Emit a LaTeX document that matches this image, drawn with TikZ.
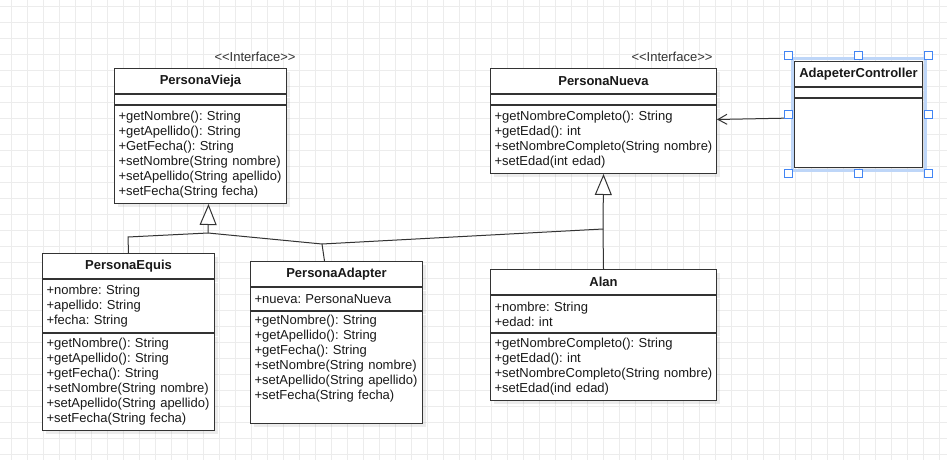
\documentclass[tikz,border=0pt]{standalone}
\usepackage{fontspec}
\setmainfont{Liberation Sans}
\usetikzlibrary{positioning, arrows.meta, shadows, fit}
\usepackage{xcolor}
\definecolor{edge}{RGB}{51, 51, 51}
\definecolor{ink}{RGB}{25, 25, 25}
\definecolor{gridline}{RGB}{236, 236, 236}
\definecolor{select}{RGB}{66, 133, 244}
\definecolor{glow}{RGB}{190, 214, 248}
\frenchspacing

\begin{document}
\begin{tikzpicture}[
        x=1pt, y=-1pt,
        font=\fontsize{13}{15}\selectfont,
        head/.style={draw=edge, line width=1pt, fill=white, text=ink, minimum width=#1, minimum height=25, inner sep=0, anchor=north west, font=\fontsize{13}{15}\selectfont\bfseries, drop shadow={shadow xshift=3pt, shadow yshift=-3pt, opacity=0.15}},
        part/.style={draw=edge, line width=1pt, fill=white, text=ink, text width=#1, align=left, inner xsep=4, inner ysep=0, drop shadow={shadow xshift=3pt, shadow yshift=-3pt, opacity=0.15}},
        stereo/.style={text=edge, inner sep=0},
        link/.style={draw=edge, line width=1pt},
        inherit/.style={link, -{Triangle[length=21pt, width=17pt, fill=white]}},
        assoc/.style={link, -{Straight Barb[length=9pt, width=10pt]}},
        handle/.style={draw=select, fill=white, line width=0.8pt, minimum size=8, inner sep=0}
    ]
        % background and grid
        \fill[white] (0,0) rectangle (947,460);
        \useasboundingbox (0,0) rectangle (947,460);
        \foreach \x in {11,27,...,947} \draw[gridline, line width=0.8pt] (\x,0) -- (\x,460);
        \foreach \y in {6,22,...,460} \draw[gridline, line width=0.8pt] (0,\y) -- (947,\y);

        % interfaces
        \node[stereo] (viejaS) at (255,57) {<\kern0pt<Interface>\kern0pt>};
        \node[head=172] (vieja) at (114,68) {PersonaVieja};
        \node[part=164, minimum height=10, below=0pt of vieja] (viejaA) {};
        \node[part=164, minimum height=98, below=0pt of viejaA] (viejaM) {+getNombre(): String\\+getApellido(): String\\+GetFecha(): String\\+setNombre(String nombre)\\+setApellido(String apellido)\\+setFecha(String fecha)};

        \node[stereo] (nuevaS) at (672,57) {<\kern0pt<Interface>\kern0pt>};
        \node[head=226] (nueva) at (490,68) {PersonaNueva};
        \node[part=218, minimum height=10, below=0pt of nueva] (nuevaA) {};
        \node[part=218, minimum height=68, below=0pt of nuevaA] (nuevaM) {+getNombreCompleto(): String\\+getEdad(): int\\+setNombreCompleto(String nombre)\\+setEdad(int edad)};

        % controller
        \node[head=128] (ctrl) at (794,61) {AdapeterController};
        \node[part=120, minimum height=10, below=0pt of ctrl] (ctrlA) {};
        \node[part=120, minimum height=69, below=0pt of ctrlA] (ctrlM) {};

        % classes
        \node[head=172] (equis) at (42,253) {PersonaEquis};
        \node[part=164, minimum height=53, below=0pt of equis] (equisA) {+nombre: String\\+apellido: String\\+fecha: String};
        \node[part=164, minimum height=97, below=0pt of equisA] (equisM) {+getNombre(): String\\+getApellido(): String\\+getFecha(): String\\+setNombre(String nombre)\\+setApellido(String apellido)\\+setFecha(String fecha)};

        \node[head=172] (adapter) at (250,261) {PersonaAdapter};
        \node[part=164, minimum height=23, below=0pt of adapter] (adapterA) {+nueva: PersonaNueva};
        \node[part=164, minimum height=112, below=0pt of adapterA] (adapterM) {+getNombre(): String\\+getApellido(): String\\+getFecha(): String\\+setNombre(String nombre)\\+setApellido(String apellido)\\+setFecha(String fecha)\\\strut};

        \node[head=226] (alan) at (490,269) {Alan};
        \node[part=218, minimum height=37, below=0pt of alan] (alanA) {+nombre: String\\+edad: int};
        \node[part=218, minimum height=67, below=0pt of alanA] (alanM) {+getNombreCompleto(): String\\+getEdad(): int\\+setNombreCompleto(String nombre)\\+setEdad(ind edad)};

        % connectors
        \coordinate (je) at (128,237);
        \coordinate (jv) at (208,233);
        \coordinate (ja) at (322,244);
        \coordinate (jn) at (603,229);
        \draw[link] (equis.north) -- (je) -- (jv) -- (ja) -- (jn);
        \draw[link] ([xshift=-12]adapter.north) -- (ja);
        \draw[link] (alan.north) -- (jn);
        \draw[inherit] (jv) -- ([xshift=8]viejaM.south);
        \draw[inherit] (jn) -- (nuevaM.south);
        \draw[assoc] ([yshift=15]ctrlM.west) -- ([yshift=20]nuevaM.east);

        % selection
        \draw[glow, line width=3pt] ([xshift=-2pt, yshift=2pt]ctrl.north west) rectangle ([xshift=2pt, yshift=-2pt]ctrlM.south east);
        \node[fit=(ctrl)(ctrlM), inner sep=5] (sel) {};
        \foreach \a [count=\i] in {north west, north, north east, east, south east, south, south west, west}
            \node[handle] (h\i) at (sel.\a) {};
    \end{tikzpicture}
\end{document}
